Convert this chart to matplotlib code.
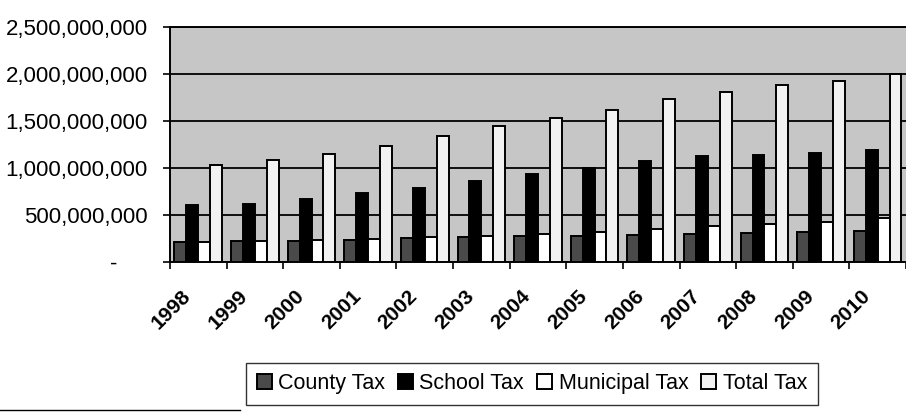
import numpy as np
import matplotlib
matplotlib.use("Agg")
import matplotlib.pyplot as plt
from matplotlib.ticker import FuncFormatter
from matplotlib.lines import Line2D

# values (dollars)
years = ["1998", "1999", "2000", "2001", "2002", "2003", "2004",
         "2005", "2006", "2007", "2008", "2009", "2010"]
county_tax = [210e6, 220e6, 220e6, 230e6, 250e6, 260e6, 270e6,
              280e6, 290e6, 300e6, 310e6, 320e6, 330e6]
school_tax = [600e6, 620e6, 670e6, 730e6, 790e6, 860e6, 930e6,
              1000e6, 1070e6, 1130e6, 1140e6, 1160e6, 1190e6]
municipal_tax = [210e6, 220e6, 230e6, 240e6, 260e6, 280e6, 300e6,
                 320e6, 350e6, 380e6, 400e6, 420e6, 470e6]
total_tax = [1030e6, 1080e6, 1150e6, 1230e6, 1340e6, 1450e6, 1535e6,
             1620e6, 1730e6, 1810e6, 1880e6, 1920e6, 2000e6]
y_ticks = [0, 500e6, 1000e6, 1500e6, 2000e6, 2500e6]


def money(v, pos):
    # excel accounting style: zero is shown as a dash
    if v == 0:
        return "-     "
    return "{:,.0f}".format(v)


def main():
    plt.rcParams['font.family'] = ['Liberation Sans', 'DejaVu Sans']
    fig = plt.figure(figsize=[9.06, 4.15], dpi=100)
    ax = fig.add_axes([0.1876, 0.369, 0.8124, 0.566])
    ax.set_facecolor("#c6c6c6")

    x = np.arange(len(years))
    w = 0.21
    series = [(county_tax, "County Tax", "#4a4a4a"),
              (school_tax, "School Tax", "black"),
              (municipal_tax, "Municipal Tax", "white"),
              (total_tax, "Total Tax", "#f2f2f2")]
    for i, (vals, name, col) in enumerate(series):
        ax.bar(x + (i - 1.5) * w, vals, w, color=col, edgecolor="black",
               linewidth=1.4, label=name, zorder=3)

    ax.set_ylim(0, 2.5e9)
    ax.set_xlim(-0.5, len(years) - 0.5)
    ax.set_yticks(y_ticks)
    ax.yaxis.set_major_formatter(FuncFormatter(money))
    ax.grid(axis="y", color="black", linewidth=1.3, zorder=1)
    ax.set_axisbelow(True)

    # ticks between the categories, labels just left of the category centres
    ax.set_xticks(np.arange(len(years) + 1) - 0.5)
    ax.set_xticklabels([])
    ax.set_xticks(x - 0.3, minor=True)
    ax.set_xticklabels(years, minor=True, rotation=45, ha="right",
                       va="top", rotation_mode="anchor", fontsize=15,
                       fontweight="bold")
    ax.tick_params(axis="x", which="minor", length=0, pad=18)
    ax.tick_params(axis="x", which="major", length=5, width=1.2)
    ax.tick_params(axis="y", length=5, width=1.2, labelsize=16, pad=11)

    ax.spines["right"].set_visible(False)
    for s in ["left", "bottom", "top"]:
        ax.spines[s].set_linewidth(1.4)

    leg = fig.legend(loc="center", bbox_to_anchor=(0.587, 0.075), ncol=4,
                     fontsize=15.5, frameon=True, fancybox=False,
                     handlelength=0.7, handleheight=0.7, handletextpad=0.3,
                     columnspacing=0.6, borderpad=0.5)
    leg.get_frame().set_edgecolor("black")
    leg.get_frame().set_linewidth(1.0)

    # stray edge from the scanned page
    fig.add_artist(Line2D([0, 0.265], [0.012, 0.012], color="black",
                          linewidth=1.0, transform=fig.transFigure))

    fig.savefig("out.png", dpi=100)


if __name__ == "__main__":
    main()
